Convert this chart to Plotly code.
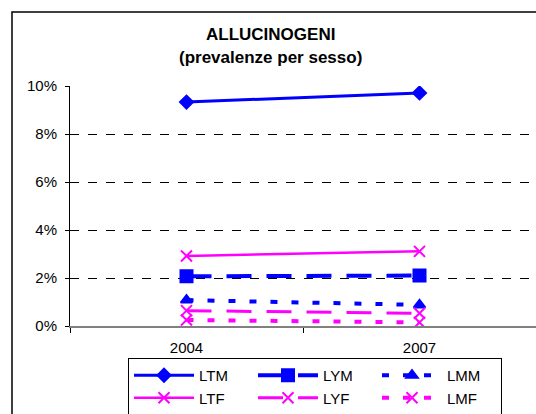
import plotly.graph_objects as go

years = ["2004", "2007"]
LTM = [0.0933, 0.0971]
LYM = [0.0207, 0.0210]
LMM = [0.0108, 0.0088]
LTF = [0.0292, 0.0311]
LYF = [0.0064, 0.0053]
LMF = [0.0025, 0.0015]

BLUE = "#0000FF"
MAG = "#FF00FF"
FONT = "Arial, Liberation Sans, sans-serif"

series = [
    ("LTM", LTM, BLUE, "solid", 3, "diamond", 10),
    ("LYM", LYM, BLUE, "25px,15px", 4, "square", 12),
    ("LMM", LMM, BLUE, "7px,14px", 4, "triangle-up", 10),
    ("LTF", LTF, MAG, "solid", 2.5, "x-thin", 11),
    ("LYF", LYF, MAG, "25px,15px", 3, "x-thin", 11),
    ("LMF", LMF, MAG, "7px,14px", 4, "x-thin", 11),
]

W, H = 536, 414
L, T, B = 70, 86, 88
PW, PH = W - L, H - T - B

fig = go.Figure()
for name, vals, col, dash, w, sym, sz in series:
    fig.add_trace(go.Scatter(
        x=years, y=vals, name=name, mode="lines+markers",
        line=dict(color=col, width=w, dash=dash),
        marker=dict(symbol=sym, size=sz, color=col,
                    line=dict(color=col, width=2)),
    ))

def px(x):
    return (x - L) / PW

def py(y):
    return (H - B - y) / PH

fig.update_layout(
    width=W, height=H,
    margin=dict(l=L, r=0, t=T, b=B, autoexpand=False),
    paper_bgcolor="white", plot_bgcolor="white",
    font=dict(family=FONT, size=14, color="black"),
    showlegend=True,
    legend=dict(orientation="h", xref="container", yref="container",
                x=128 / W, xanchor="left",
                y=1 - 358 / H, yanchor="top", entrywidth=49,
                bgcolor="white", bordercolor="black", borderwidth=1,
                itemwidth=60, font=dict(family=FONT, size=15),
                tracegroupgap=0),
    xaxis=dict(type="category", range=[-0.5, 1.5], showline=True,
               linecolor="#808080", linewidth=2, ticks="outside",
               tickson="boundaries", ticklen=5, tickcolor="black",
               showgrid=False, ticklabelstandoff=7,
               tickfont=dict(family=FONT, size=15)),
    yaxis=dict(range=[0, 0.1], tickvals=[0, 0.02, 0.04, 0.06, 0.08, 0.10],
               tickformat=".0%", showline=True, linecolor="black",
               linewidth=1, ticks="outside", ticklen=4, tickcolor="black",
               showgrid=True, gridcolor="black", gridwidth=1,
               griddash="dash", zeroline=False, ticklabelstandoff=5,
               tickfont=dict(family=FONT, size=15)),
    annotations=[
        dict(text="<b>ALLUCINOGENI</b>", xref="paper", yref="paper",
             x=px(270), y=py(34), xanchor="center", yanchor="middle",
             showarrow=False, font=dict(family=FONT, size=17, color="black")),
        dict(text="<b>(prevalenze per sesso)</b>", xref="paper", yref="paper",
             x=px(270), y=py(57), xanchor="center", yanchor="middle",
             showarrow=False, font=dict(family=FONT, size=17, color="black")),
    ],
    shapes=[dict(type="rect", xref="paper", yref="paper",
                 x0=px(12), x1=1.2, y0=-0.5, y1=py(12),
                 line=dict(color="black", width=1.5), layer="below")],
)

fig.write_html(
    "out.html",
    config={"displayModeBar": False},
    post_script="document.body.style.margin='0';"
                "document.body.style.overflow='hidden';"
                "document.documentElement.style.overflow='hidden';",
)
